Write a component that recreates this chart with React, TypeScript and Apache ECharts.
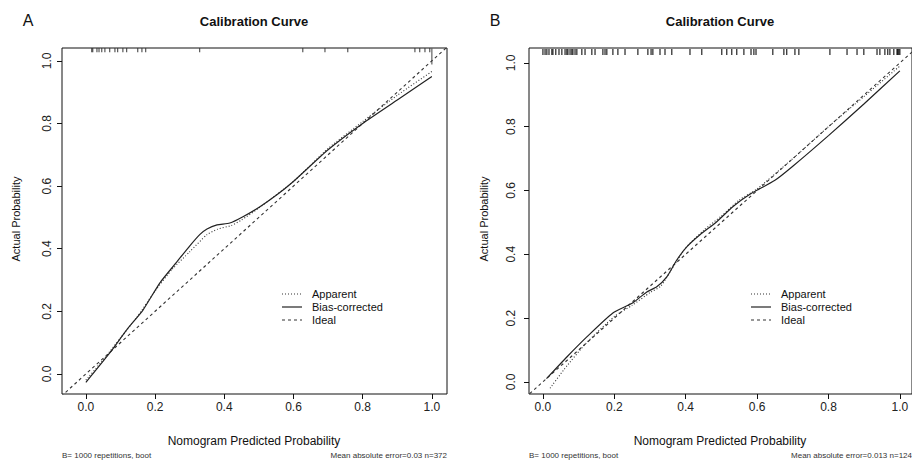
import React, { useEffect, useRef } from "react";
import * as echarts from "echarts";

// ---------- data ----------
const tickValues = [0, 0.2, 0.4, 0.6, 0.8, 1.0];
const legendLabels = ["Apparent", "Bias-corrected", "Ideal"];
const idealLine: [number, number][] = [[-0.2, -0.2], [1.2, 1.2]];

const apparentA: [number, number][] = [
  [0.0, -0.02], [0.05, 0.045], [0.1, 0.115], [0.15, 0.185], [0.2, 0.265],
  [0.25, 0.335], [0.3, 0.39], [0.35, 0.445], [0.38, 0.462], [0.42, 0.474],
  [0.45, 0.492], [0.5, 0.53], [0.6, 0.615], [0.7, 0.72], [0.8, 0.806],
  [0.9, 0.89], [1.0, 0.966],
];
const biasA: [number, number][] = [
  [0.0, -0.027], [0.069, 0.067], [0.118, 0.141], [0.165, 0.204],
  [0.214, 0.291], [0.263, 0.358], [0.301, 0.41], [0.329, 0.445], [0.35, 0.463],
  [0.379, 0.476], [0.416, 0.482], [0.454, 0.502], [0.503, 0.534], [0.552, 0.572],
  [0.598, 0.613], [0.7, 0.716], [0.8, 0.8], [0.9, 0.875], [1.0, 0.95],
];
const rugA = [
  0.017, 0.02, 0.032, 0.038, 0.046, 0.055, 0.069, 0.084, 0.092, 0.107, 0.118,
  0.15, 0.162, 0.173, 0.329, 0.627, 0.691, 0.757, 0.951, 0.965, 0.98, 0.994,
];
const rugATall = [1.0];

const apparentB: [number, number][] = [
  [0.02, -0.02], [0.06, 0.04], [0.12, 0.12], [0.2, 0.205], [0.25, 0.24],
  [0.3, 0.28], [0.33, 0.3], [0.37, 0.37], [0.4, 0.42], [0.45, 0.475],
  [0.5, 0.52], [0.55, 0.57], [0.6, 0.605], [0.7, 0.7], [0.8, 0.8],
  [0.9, 0.895], [1.0, 0.99],
];
const biasB: [number, number][] = [
  [0.01, 0.01], [0.067, 0.078], [0.123, 0.141], [0.196, 0.216],
  [0.252, 0.248], [0.291, 0.282], [0.319, 0.298], [0.347, 0.329], [0.375, 0.382],
  [0.403, 0.423], [0.44, 0.461], [0.487, 0.502], [0.532, 0.549], [0.58, 0.588],
  [0.65, 0.632], [0.7, 0.676], [0.8, 0.772], [0.9, 0.872], [1.0, 0.975],
];
const rugB = [
  0.0, 0.006, 0.011, 0.017, 0.025, 0.028, 0.036, 0.045, 0.053, 0.062, 0.067,
  0.07, 0.076, 0.081, 0.084, 0.09, 0.095, 0.109, 0.118, 0.137, 0.146, 0.168,
  0.174, 0.179, 0.196, 0.21, 0.23, 0.266, 0.294, 0.303, 0.308, 0.328, 0.342,
  0.361, 0.412, 0.445, 0.501, 0.515, 0.529, 0.543, 0.563, 0.583, 0.591, 0.597,
  0.644, 0.675, 0.683, 0.706, 0.717, 0.804, 0.852, 0.88, 0.899, 0.936, 0.944,
  0.958, 0.966, 0.972, 0.983, 0.992, 0.994, 0.997, 1.0,
];

const panelLetters = ["A", "B"];
const titleText = "Calibration Curve";
const xTitle = "Nomogram Predicted Probability";
const yTitle = "Actual Probability";
const leftNotes = ["B= 1000 repetitions, boot", "B= 1000 repetitions, boot"];
const rightNotes = ["Mean absolute error=0.03 n=372", "Mean absolute error=0.013 n=124"];

// ---------- layout ----------
const FONT = "'Liberation Sans', Arial, Helvetica, sans-serif";
const INK = "#222";

const layout = [
  { left: 62, width: 385, xMin: -0.069, xMax: 1.0437, yMin: -0.064, yMax: 1.041,
    rugY: 1.0335, labelMargin: 9, center: 254, letterX: 28, yTitleX: 16, legX: 282, legendRows: [294, 307, 320] },
  { left: 529, width: 383, xMin: -0.039, xMax: 1.034, yMin: -0.038, yMax: 1.0466,
    rugY: 1.034, labelMargin: 12, center: 720, letterX: 495, yTitleX: 484, legX: 751, legendRows: [294, 307, 320] },
];
const TOP = 48;
const HEIGHT = 346;

export default function App() {
  const ref = useRef<HTMLDivElement>(null);

  useEffect(() => {
    if (!ref.current) return;
    const chart = echarts.init(ref.current, undefined, { renderer: "svg" });

    const grids = layout.map((l) => ({
      left: l.left, top: TOP, width: l.width, height: HEIGHT,
      show: true, borderColor: "#111", borderWidth: 1, backgroundColor: "transparent",
      containLabel: false,
    }));

    const xAxes = layout.map((l, i) => ({
      type: "value", gridIndex: i, min: l.xMin, max: l.xMax, position: "bottom",
      axisLine: { show: false, onZero: false },
      splitLine: { show: false },
      axisTick: { show: true, inside: false, length: 5, customValues: tickValues, lineStyle: { color: "#111" } },
      axisLabel: {
        show: true, customValues: tickValues, margin: 7,
        formatter: (v: number) => v.toFixed(1), fontFamily: FONT, fontSize: 12, color: INK,
      },
    }));
    const yAxes = layout.map((l, i) => ({
      type: "value", gridIndex: i, min: l.yMin, max: l.yMax, position: "left",
      axisLine: { show: false, onZero: false },
      splitLine: { show: false },
      axisTick: { show: true, inside: false, length: 5, customValues: tickValues, lineStyle: { color: "#111" } },
      axisLabel: {
        show: true, customValues: tickValues, margin: l.labelMargin, rotate: 90,
        formatter: (v: number) => v.toFixed(1), fontFamily: FONT, fontSize: 12, color: INK,
      },
    }));

    const curves = [
      { app: apparentA, bias: biasA, rug: rugA },
      { app: apparentB, bias: biasB, rug: rugB },
    ];

    const series: any[] = [];
    curves.forEach((c, i) => {
      series.push({
        type: "line", name: legendLabels[2], xAxisIndex: i, yAxisIndex: i, data: idealLine,
        symbol: "none", silent: true, clip: true,
        lineStyle: { color: "#333", width: 1.1, type: [3, 3] },
      });
      series.push({
        type: "line", name: legendLabels[0], xAxisIndex: i, yAxisIndex: i, data: c.app,
        symbol: "none", smooth: 0.2, silent: true, clip: true,
        lineStyle: { color: "#333", width: 1.1, type: [1, 2] },
      });
      series.push({
        type: "line", name: legendLabels[1], xAxisIndex: i, yAxisIndex: i, data: c.bias,
        symbol: "none", smooth: 0.2, silent: true, clip: true,
        lineStyle: { color: "#222", width: 1.2, type: "solid" },
      });
      series.push({
        type: "scatter", xAxisIndex: i, yAxisIndex: i, silent: true, clip: false,
        data: c.rug.map((v) => [v, layout[i].rugY]),
        symbol: "rect", symbolSize: i === 0 ? [1, 4] : [1.3, 6],
        itemStyle: { color: "#000" },
      });
    });
    series.push({
      type: "scatter", xAxisIndex: 0, yAxisIndex: 0, silent: true, clip: false,
      data: rugATall.map((v) => [v, 1.014]),
      symbol: "rect", symbolSize: [1, 16],
      itemStyle: { color: "#111" },
    });

    const graphic: any[] = [];
    layout.forEach((l, i) => {
      graphic.push({
        type: "text", x: l.letterX, y: 20,
        style: { text: panelLetters[i], font: `16px ${FONT}`, fill: "#111", textAlign: "center", textVerticalAlign: "middle" },
      });
      graphic.push({
        type: "text", x: l.center, y: 21,
        style: { text: titleText, font: `bold 13px ${FONT}`, fill: "#111", textAlign: "center", textVerticalAlign: "middle" },
      });
      graphic.push({
        type: "text", x: l.center, y: 441,
        style: { text: xTitle, font: `12px ${FONT}`, fill: "#111", textAlign: "center", textVerticalAlign: "middle" },
      });
      graphic.push({
        type: "text", x: l.yTitleX, y: TOP + HEIGHT / 2 - 2, rotation: Math.PI / 2,
        style: { text: yTitle, font: `11px ${FONT}`, fill: "#111", textAlign: "center", textVerticalAlign: "middle" },
      });
      graphic.push({
        type: "text", x: l.left, y: 455,
        style: { text: leftNotes[i], font: `8px ${FONT}`, fill: "#333", textAlign: "left", textVerticalAlign: "middle" },
      });
      graphic.push({
        type: "text", x: l.left + l.width, y: 455,
        style: { text: rightNotes[i], font: `8px ${FONT}`, fill: "#333", textAlign: "right", textVerticalAlign: "middle" },
      });
      const dashes = [[1, 2], null, [3, 3]];
      legendLabels.forEach((lab, k) => {
        const y = l.legendRows[k];
        graphic.push({
          type: "line", shape: { x1: l.legX, y1: y, x2: l.legX + 20, y2: y },
          style: { stroke: "#333", lineWidth: k === 1 ? 1.3 : 1.1, lineDash: dashes[k] || undefined },
        });
        graphic.push({
          type: "text", x: l.legX + 30, y,
          style: { text: lab, font: `11px ${FONT}`, fill: "#111", textAlign: "left", textVerticalAlign: "middle" },
        });
      });
    });

    chart.setOption({
      animation: false,
      backgroundColor: "#fff",
      grid: grids,
      xAxis: xAxes,
      yAxis: yAxes,
      series,
      graphic,
    });

    return () => chart.dispose();
  }, []);

  return (
    <div
      ref={ref}
      style={{ position: "fixed", left: 0, top: 0, width: 912, height: 461, background: "#fff" }}
    />
  );
}
